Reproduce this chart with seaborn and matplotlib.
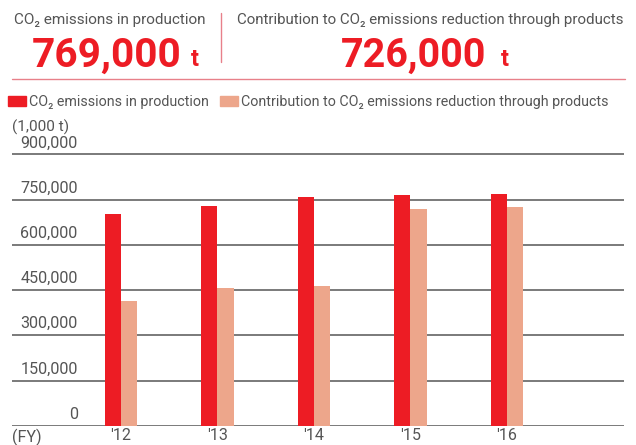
import pandas as pd
import matplotlib.pyplot as plt
import matplotlib.transforms as mtransforms
from matplotlib.lines import Line2D
import seaborn as sns

years = ["'12", "'13", "'14", "'15", "'16"]
production = [702000, 729000, 759000, 766000, 769000]
contribution = [414000, 457000, 464000, 719000, 726000]
series = ["CO\u2082 emissions in production",
          "Contribution to CO\u2082 emissions reduction through products"]
yticks = [0, 150000, 300000, 450000, 600000, 750000, 900000]

red = "#ED1C24"
salmon = "#EDA68B"
gray = "#555555"

df = pd.DataFrame({
    "year": years * 2,
    "value": production + contribution,
    "series": [series[0]] * 5 + [series[1]] * 5,
})

sns.set_style("white")
plt.rcParams['font.family'] = ['Roboto', 'DejaVu Sans']

W, H = 636, 445
fig = plt.figure(figsize=(W / 100, H / 100), dpi=100)
renderer = fig.canvas.get_renderer()


def fit(t, width_px):
    # shrink/grow a text so it spans the same width as in the reference
    w = t.get_window_extent(renderer).width
    t.set_fontsize(t.get_fontsize() * width_px / w)
    return t


left, right = 12.3, 624.3
y0 = 425.7
px_per_150k = 45.2
ymax = 930000
height_px = ymax / 150000 * px_per_150k
ax = fig.add_axes([left / W, (H - y0) / H, (right - left) / W, height_px / H])

sns.barplot(data=df, x="year", y="value", hue="series", palette=[red, salmon],
            width=0.34, saturation=1, linewidth=0, ax=ax, legend=False)
ax.set_xlim(-1.126, 5.216)
ax.set_ylim(0, ymax)
for s in ax.spines.values():
    s.set_visible(False)
ax.set_xlabel("")
ax.set_ylabel("")
ax.set_yticks([])
for v in yticks:
    ax.axhline(v, color="#7a7a7a", lw=1.4, zorder=0)

tr = mtransforms.blended_transform_factory(ax.transAxes, ax.transData)
off = mtransforms.offset_copy(tr, fig=fig, x=0, y=3, units="points")
tick_texts = []
for v in yticks:
    tick_texts.append(ax.text((77.7 - left) / (right - left), v, f"{v:,}", transform=off,
                              ha="right", va="bottom", fontsize=11, color=gray))
fit(tick_texts[-1], 58)
tsize = tick_texts[-1].get_fontsize()
for t in tick_texts:
    t.set_fontsize(tsize)
ax.tick_params(axis="x", length=0, pad=2, labelsize=tsize, labelcolor=gray)

fig.text(12 / W, 1 - 437 / H, "(FY)", ha="left", va="center", fontsize=tsize, color=gray)
fig.text(12 / W, 1 - 127 / H, "(1,000 t)", ha="left", va="center", fontsize=tsize * 0.95,
         color=gray)

# header
h1 = fig.text(14 / W, 1 - 20 / H, series[0], ha="left", va="center", fontsize=11, color=gray)
fit(h1, 192)
h2 = fig.text(237 / W, 1 - 20 / H, series[1], ha="left", va="center", fontsize=11, color=gray)
fit(h2, 388)
b1 = fig.text(32 / W, 1 - 67 / H, f"{production[-1]:,}", ha="left", va="baseline",
              fontsize=30, fontweight="bold", color=red)
fit(b1, 150)
b2 = fig.text(341 / W, 1 - 67 / H, f"{contribution[-1]:,}", ha="left", va="baseline",
              fontsize=30, fontweight="bold", color=red)
fit(b2, 146)
fig.text(191 / W, 1 - 66 / H, "t", ha="left", va="baseline",
         fontsize=17, fontweight="bold", color=red)
fig.text(501 / W, 1 - 66 / H, "t", ha="left", va="baseline",
         fontsize=17, fontweight="bold", color=red)
fig.add_artist(Line2D([221 / W, 221 / W], [1 - 13 / H, 1 - 62 / H], color="#e8808a", lw=1))
fig.add_artist(Line2D([12 / W, 625 / W], [1 - 79.3 / H, 1 - 79.3 / H], color="#e8808a", lw=1))

# legend
leg_size = h1.get_fontsize() * 178 / 192
handles = [plt.Rectangle((0, 0), 1, 1, color=red), plt.Rectangle((0, 0), 1, 1, color=salmon)]
px = leg_size * 100 / 72
fig.legend(handles, series, loc="center left", bbox_to_anchor=(8 / W, 1 - 102 / H),
           ncol=2, frameon=False, fontsize=leg_size, handlelength=18 / px, handleheight=10 / px,
           handletextpad=3 / px, columnspacing=11 / px, borderpad=0, borderaxespad=0,
           labelcolor=gray)

fig.savefig("out.png", dpi=100)
